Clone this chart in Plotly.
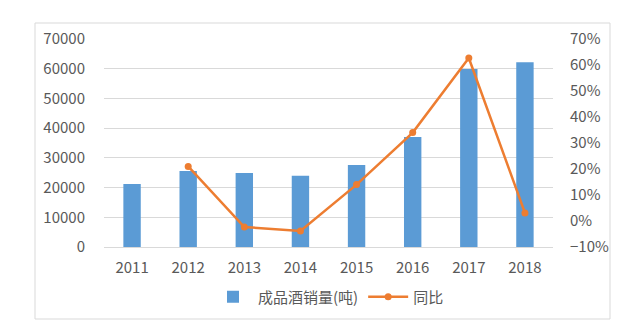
import plotly.graph_objects as go

years = ["2011", "2012", "2013", "2014", "2015", "2016", "2017", "2018"]
sales = [21200, 25600, 24900, 24000, 27600, 37000, 59900, 62200]
yoy_years = ["2012", "2013", "2014", "2015", "2016", "2017", "2018"]
yoy = [0.21, -0.023, -0.038, 0.14, 0.34, 0.627, 0.031]

bar_name = "成品酒销量(吨)"
line_name = "同比"

FONT = "Noto Sans CJK SC"
GRAY = "#595959"

fig = go.Figure()
fig.add_trace(go.Bar(x=years, y=sales, name=bar_name, marker_color="#5B9BD5",
                     marker_line_width=0))
fig.add_trace(go.Scatter(x=yoy_years, y=yoy, name=line_name, yaxis="y2",
                         mode="lines+markers",
                         line=dict(color="#ED7D31", width=2.5),
                         marker=dict(color="#ED7D31", size=7)))

W, H = 635, 330
L, R, T, B = 104, 82, 39, 83
pw, ph = W - L - R, H - T - B

def px(x):
    return (x - L) / pw

def py(y):
    return (H - B - y) / ph

fig.update_layout(
    width=W, height=H,
    margin=dict(l=L, r=R, t=T, b=B),
    paper_bgcolor="white", plot_bgcolor="white",
    font=dict(family=FONT, size=15, color=GRAY),
    bargap=0.69,
    showlegend=True,
    legend=dict(orientation="h", x=0.5, xanchor="center", y=py(297), yanchor="middle",
                font=dict(size=15, color=GRAY), itemwidth=40,
                traceorder="normal"),
    xaxis=dict(type="category", showgrid=False, showline=True, linecolor="#D9D9D9",
               linewidth=1, ticks="", ticklabelstandoff=7,
               tickfont=dict(size=15, color=GRAY)),
    yaxis=dict(range=[0, 70000], dtick=10000, tickformat="d", showgrid=True,
               gridcolor="#D9D9D9", gridwidth=1, zeroline=False, showline=False,
               ticks="", ticklabelstandoff=18, tickfont=dict(size=15, color=GRAY)),
    yaxis2=dict(range=[-0.1, 0.7], dtick=0.1, tickformat=".0%", overlaying="y",
                side="right", showgrid=False, zeroline=False, showline=False,
                ticks="", ticklabelstandoff=16, tickfont=dict(size=15, color=GRAY)),
    shapes=[dict(type="rect", xref="paper", yref="paper",
                 x0=px(35), x1=px(610), y0=py(319), y1=py(23),
                 line=dict(color="#D9D9D9", width=1), fillcolor="rgba(0,0,0,0)",
                 layer="below")],
)

fig.write_html("out.html")
